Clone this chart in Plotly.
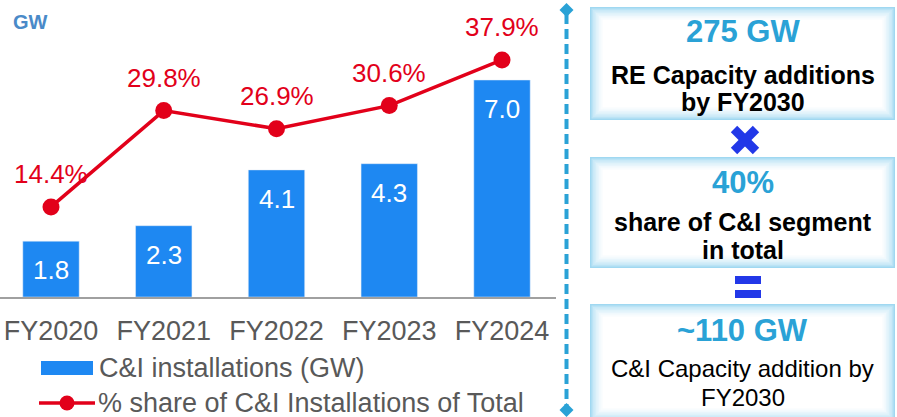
import plotly.graph_objects as go

# ---------------- data ----------------
years = ["FY2020", "FY2021", "FY2022", "FY2023", "FY2024"]
ci_gw = [1.8, 2.3, 4.1, 4.3, 7.0]
share_pct = [14.4, 29.8, 26.9, 30.6, 37.9]
bar_labels = ["1.8", "2.3", "4.1", "4.3", "7.0"]
pct_labels = ["14.4%", "29.8%", "26.9%", "30.6%", "37.9%"]
legend_names = ["C&I installations (GW)", "% share of C&I Installations of Total"]
panel_heads = ["275 GW", "40%", "~110 GW"]
panel_texts = [["RE Capacity additions", "by FY2030"],
               ["share of C&I segment", "in total"],
               ["C&I Capacity addition by", "FY2030"]]

# ---------------- style ----------------
W, H = 897, 417
FONT = "Liberation Sans, Arial, sans-serif"
BAR_C = "#1E88F2"
RED = "#E2001A"
GRAY = "#595959"
PANEL_BLUE = "#2AA2D6"
SYM_BLUE = "#2238E8"


def px(x):
    return x / W


def py(y):
    return 1 - y / H


fig = go.Figure()
fig.add_trace(go.Bar(x=years, y=ci_gw, marker_color=BAR_C, name=legend_names[0],
                     showlegend=False, yaxis="y"))
fig.add_trace(go.Scatter(x=years, y=share_pct, mode="lines+markers", name=legend_names[1],
                         line=dict(color=RED, width=3.5), marker=dict(color=RED, size=17),
                         showlegend=False, yaxis="y2"))

annotations = []
for x, v, t in zip(years, ci_gw, bar_labels):
    annotations.append(dict(x=x, y=v, xref="x", yref="y", text=t, showarrow=False,
                            xanchor="center", yanchor="middle", yshift=-29,
                            font=dict(family=FONT, size=26, color="white")))
for x, v, t in zip(years, share_pct, pct_labels):
    annotations.append(dict(x=x, y=v, xref="x", yref="y2", text=t, showarrow=False,
                            xanchor="center", yanchor="middle", yshift=33,
                            font=dict(family=FONT, size=26, color=RED)))

# GW unit label
annotations.append(dict(x=px(11), y=py(22), xref="paper", yref="paper", text="<b>GW</b>",
                        showarrow=False, xanchor="left", yanchor="middle",
                        font=dict(family=FONT, size=20, color="#4A8AC8")))

shapes = []
# manual legend
shapes.append(dict(type="rect", xref="paper", yref="paper", x0=px(41), x1=px(93),
                   y0=py(375), y1=py(361), fillcolor=BAR_C, line=dict(width=0)))
shapes.append(dict(type="line", xref="paper", yref="paper", x0=px(39), x1=px(95),
                   y0=py(403), y1=py(403), line=dict(color=RED, width=3.5)))
shapes.append(dict(type="circle", xref="paper", yref="paper", x0=px(59.5), x1=px(74.5),
                   y0=py(410.5), y1=py(395.5), fillcolor=RED, line=dict(width=0)))
annotations.append(dict(x=px(97), y=py(368), xref="paper", yref="paper", text=legend_names[0],
                        showarrow=False, xanchor="left", yanchor="middle",
                        font=dict(family=FONT, size=27, color=GRAY)))
annotations.append(dict(x=px(96), y=py(403), xref="paper", yref="paper", text=legend_names[1],
                        showarrow=False, xanchor="left", yanchor="middle",
                        font=dict(family=FONT, size=27, color=GRAY)))

# dashed separator with diamond ends
shapes.append(dict(type="line", xref="paper", yref="paper", x0=px(566.5), x1=px(566.5),
                   y0=py(14), y1=py(406), line=dict(color=PANEL_BLUE, width=4, dash="10px,5px")))
for cy in (10, 410):
    cx = 566.5
    d = 7
    path = (f"M {px(cx)},{py(cy - d)} L {px(cx + d)},{py(cy)} "
            f"L {px(cx)},{py(cy + d)} L {px(cx - d)},{py(cy)} Z")
    shapes.append(dict(type="path", xref="paper", yref="paper", path=path,
                       fillcolor=PANEL_BLUE, line=dict(width=0)))


def glow_box(x0, y0, x1, y1):
    shapes.append(dict(type="rect", xref="paper", yref="paper", x0=px(x0), x1=px(x1),
                       y0=py(y1), y1=py(y0), fillcolor="white", line=dict(width=0)))
    c0 = (160, 216, 241)
    n = 8
    for i in range(n):
        t = (i / n) ** 0.6
        c = tuple(int(round(a + (255 - a) * t)) for a in c0)
        ins = 1 + i * 1.5
        shapes.append(dict(type="rect", xref="paper", yref="paper",
                           x0=px(x0 + ins), x1=px(x1 - ins), y0=py(y1 - ins), y1=py(y0 + ins),
                           line=dict(color=f"rgb{c}", width=2), fillcolor="rgba(0,0,0,0)"))


boxes = [(590, 7, 895, 120), (590, 157, 895, 268), (590, 304, 895, 421)]
head_y = [32, 183, 330]
line_y = [[75, 102], [222, 250], [368, 397]]
bold_body = [True, True, False]
for (bx0, by0, bx1, by1), hd, hy, body, ly, bb in zip(boxes, panel_heads, head_y,
                                                      panel_texts, line_y, bold_body):
    glow_box(bx0, by0, bx1, by1)
    cx = (bx0 + bx1) / 2
    annotations.append(dict(x=px(cx), y=py(hy), xref="paper", yref="paper",
                            text=f"<b>{hd}</b>", showarrow=False,
                            xanchor="center", yanchor="middle",
                            font=dict(family=FONT, size=31, color=PANEL_BLUE)))
    for txt, yy in zip(body, ly):
        annotations.append(dict(x=px(cx), y=py(yy), xref="paper", yref="paper",
                                text=f"<b>{txt}</b>" if bb else txt, showarrow=False,
                                xanchor="center", yanchor="middle",
                                font=dict(family=FONT, size=25 if bb else 24, color="black")))

# multiplication sign
for (xa, ya, xb, yb) in [(734, 129, 756, 151), (756, 129, 734, 151)]:
    shapes.append(dict(type="line", xref="paper", yref="paper", x0=px(xa), y0=py(ya),
                       x1=px(xb), y1=py(yb), line=dict(color=SYM_BLUE, width=9)))
# equals sign
for (ya, yb) in [(276, 284), (290, 298)]:
    shapes.append(dict(type="rect", xref="paper", yref="paper", x0=px(735), x1=px(761),
                       y0=py(yb), y1=py(ya), fillcolor=SYM_BLUE, line=dict(width=0)))

PLOT_TOP, PLOT_BOT = 10, 297
plot_h = PLOT_BOT - PLOT_TOP
fig.update_layout(
    width=W, height=H,
    margin=dict(l=0, r=0, t=0, b=0),
    paper_bgcolor="white", plot_bgcolor="white",
    bargap=0.5,
    showlegend=False,
    xaxis=dict(domain=[0, px(556)], range=[-51 / 112.75, (556 - 51) / 112.75],
               showline=True, linecolor="#A0A0A0", linewidth=1.5, showgrid=False,
               ticks="outside", ticklen=9, tickcolor="rgba(0,0,0,0)",
               tickfont=dict(family=FONT, size=27, color=GRAY), zeroline=False),
    yaxis=dict(domain=[py(PLOT_BOT), py(PLOT_TOP)], range=[0, plot_h / 31.0],
               visible=False, showgrid=False, zeroline=False),
    yaxis2=dict(domain=[py(PLOT_BOT), py(PLOT_TOP)], range=[0, plot_h / 6.255],
                overlaying="y", visible=False, showgrid=False, zeroline=False),
    annotations=annotations,
    shapes=shapes,
)

fig.write_html("out.html", config={"displayModeBar": False},
               post_script="document.body.style.margin='0';document.body.style.overflow='hidden';")
